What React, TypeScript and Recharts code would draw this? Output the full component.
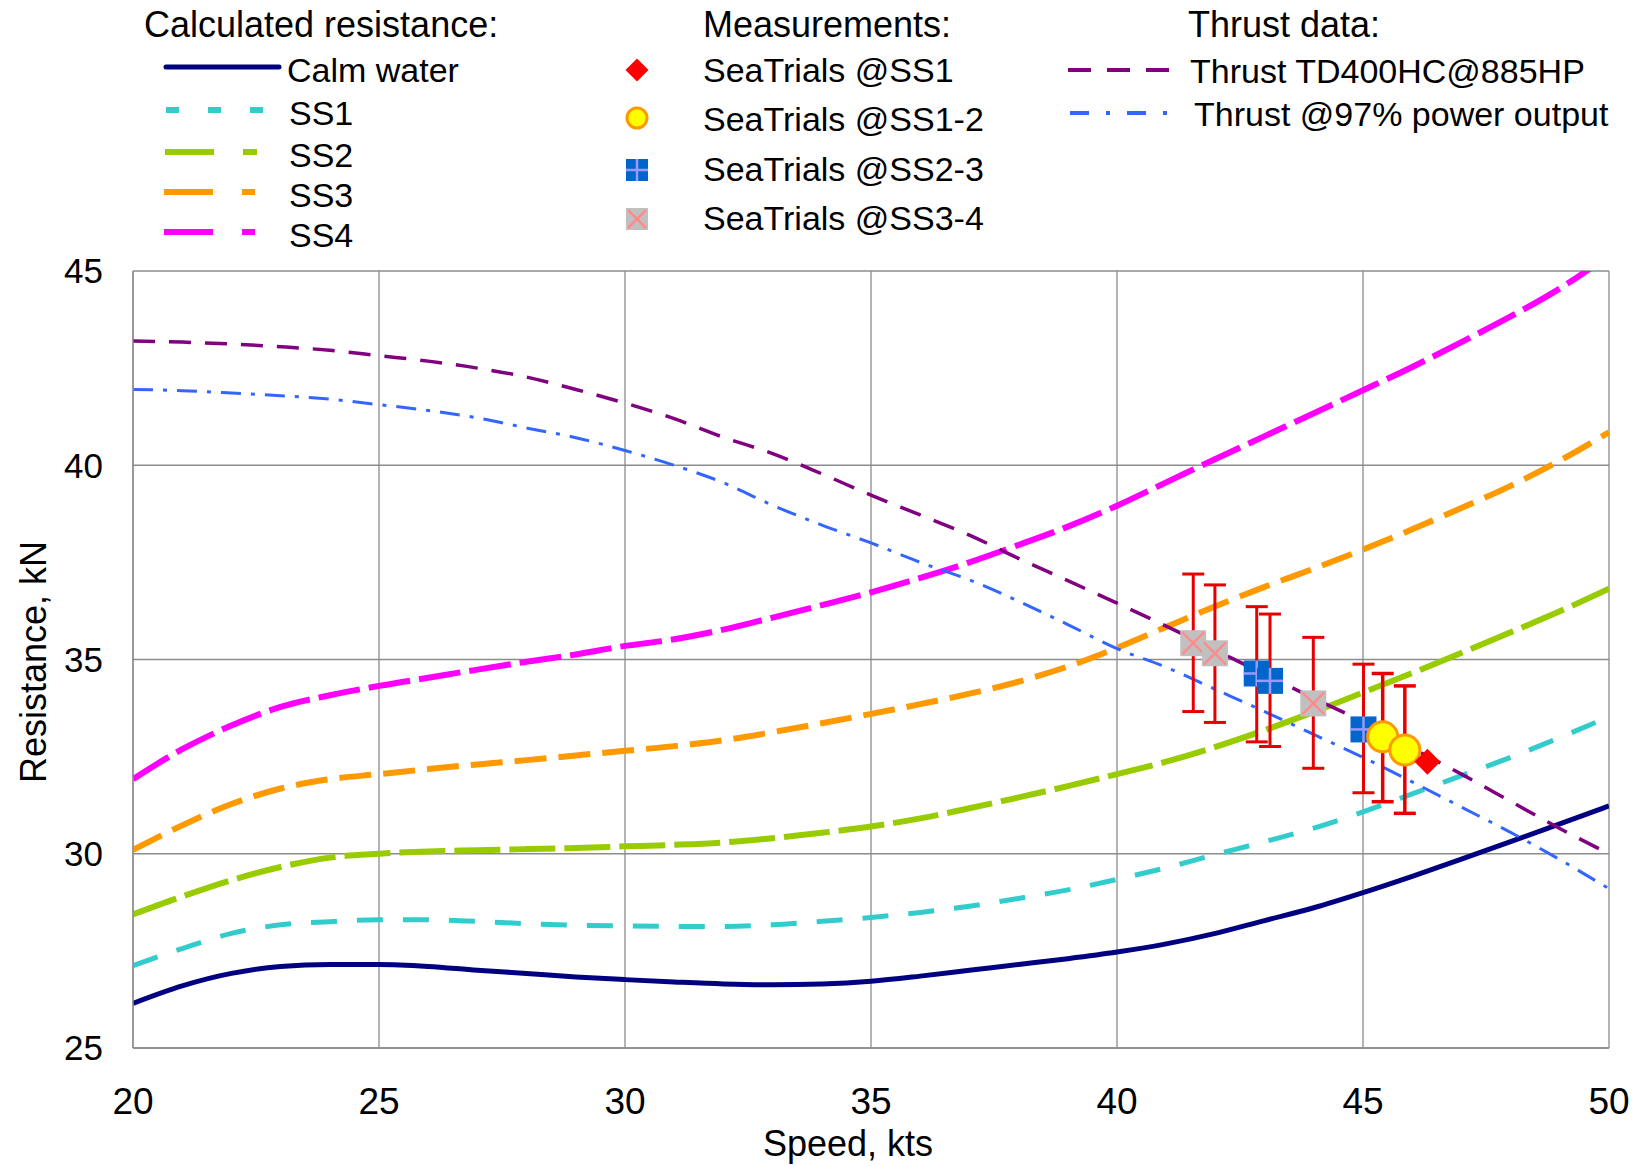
import React from 'react';
import { ComposedChart, Line, Scatter, XAxis, YAxis, CartesianGrid, ErrorBar } from 'recharts';

// ---------- data ----------
const speeds = [20, 21, 22, 23, 24, 25, 26, 27, 28, 29, 30, 31, 32, 33, 34, 35, 36, 37, 38, 39, 40, 41, 42, 43, 44, 45, 46, 47, 48, 49, 50];
const calmWater = [26.15, 26.6, 26.92, 27.1, 27.15, 27.15, 27.1, 27.0, 26.92, 26.83, 26.76, 26.7, 26.65, 26.63, 26.65, 26.72, 26.85, 27.0, 27.15, 27.3, 27.47, 27.68, 27.95, 28.28, 28.61, 29.0, 29.42, 29.86, 30.31, 30.77, 31.23];
const ss1 = [27.12, 27.56, 27.95, 28.17, 28.25, 28.3, 28.3, 28.26, 28.2, 28.16, 28.14, 28.13, 28.13, 28.17, 28.26, 28.36, 28.49, 28.65, 28.85, 29.07, 29.34, 29.64, 29.98, 30.31, 30.66, 31.08, 31.54, 32.01, 32.48, 32.99, 33.53];
const ss2 = [28.44, 28.9, 29.32, 29.66, 29.9, 30.0, 30.06, 30.09, 30.12, 30.15, 30.19, 30.23, 30.29, 30.4, 30.54, 30.7, 30.91, 31.17, 31.45, 31.74, 32.05, 32.37, 32.75, 33.18, 33.65, 34.15, 34.65, 35.17, 35.7, 36.24, 36.82];
const ss3 = [30.1, 30.73, 31.28, 31.68, 31.92, 32.05, 32.18, 32.3, 32.41, 32.53, 32.65, 32.77, 32.92, 33.13, 33.36, 33.6, 33.85, 34.12, 34.43, 34.82, 35.3, 35.84, 36.37, 36.87, 37.34, 37.83, 38.35, 38.9, 39.47, 40.12, 40.85];
const ss4 = [31.92, 32.69, 33.3, 33.78, 34.08, 34.32, 34.53, 34.74, 34.94, 35.13, 35.35, 35.52, 35.77, 36.08, 36.4, 36.73, 37.1, 37.5, 37.95, 38.42, 38.96, 39.56, 40.16, 40.75, 41.34, 41.93, 42.53, 43.17, 43.83, 44.55, 45.4];
const thrustTD400 = [43.2, 43.17, 43.12, 43.05, 42.96, 42.82, 42.68, 42.5, 42.27, 41.95, 41.6, 41.2, 40.72, 40.3, 39.78, 39.23, 38.72, 38.2, 37.6, 37.03, 36.45, 35.86, 35.24, 34.62, 34.0, 33.4, 32.72, 32.05, 31.35, 30.65, 30.0];
const thrust97 = [41.95, 41.92, 41.86, 41.79, 41.7, 41.56, 41.41, 41.22, 40.96, 40.71, 40.38, 40.0, 39.55, 38.97, 38.46, 38.0, 37.5, 37.05, 36.5, 35.9, 35.28, 34.8, 34.23, 33.66, 33.07, 32.48, 31.85, 31.2, 30.55, 29.85, 29.1];

const xTicks = [20, 25, 30, 35, 40, 45, 50];
const yTicks = [25, 30, 35, 40, 45];

// measurements
const trialSS1Speed = [46.31];
const trialSS1Res = [32.37];

const trialSS12Speed = [45.4, 45.85];
const trialSS12Res = [33.01, 32.67];
const trialSS12Low = [31.34, 31.04];
const trialSS12High = [34.64, 34.32];

const trialSS23Speed = [42.84, 43.11, 45.01];
const trialSS23Res = [34.64, 34.45, 33.2];
const trialSS23Low = [32.88, 32.76, 31.57];
const trialSS23High = [36.36, 36.17, 34.88];

const trialSS34Speed = [41.55, 41.99, 43.99];
const trialSS34Res = [35.42, 35.16, 33.87];
const trialSS34Low = [33.66, 33.38, 32.2];
const trialSS34High = [37.2, 36.92, 35.57];

// ---------- tables ----------
const lineData = speeds.map((s, i) => ({
  speed: s,
  calm: calmWater[i],
  ss1: ss1[i],
  ss2: ss2[i],
  ss3: ss3[i],
  ss4: ss4[i],
  td400: thrustTD400[i],
  t97: thrust97[i],
}));

const buildPts = (sp: number[], res: number[], lo?: number[], hi?: number[]) =>
  sp.map((s, i) => ({
    speed: s,
    res: res[i],
    err: lo && hi ? [res[i] - lo[i], hi[i] - res[i]] : [0, 0],
  }));

const ptsSS1 = buildPts(trialSS1Speed, trialSS1Res);
const ptsSS12 = buildPts(trialSS12Speed, trialSS12Res, trialSS12Low, trialSS12High);
const ptsSS23 = buildPts(trialSS23Speed, trialSS23Res, trialSS23Low, trialSS23High);
const ptsSS34 = buildPts(trialSS34Speed, trialSS34Res, trialSS34Low, trialSS34High);

// ---------- styles ----------
const FONT = '"Liberation Sans", Arial, Helvetica, sans-serif';
const C = {
  calm: '#000080',
  ss1: '#33CCCC',
  ss2: '#99CC00',
  ss3: '#FF9900',
  ss4: '#FF00FF',
  td400: '#800080',
  t97: '#3366FF',
  err: '#E60000',
  grid: '#8c8c8c',
};

// ---------- marker shapes ----------
const GrayX = ({ cx, cy, s = 13 }: any) => (
  <g>
    <rect x={cx - s} y={cy - s} width={2 * s} height={2 * s} fill="#C0C0C0" />
    <line x1={cx - s + 2} y1={cy - s + 2} x2={cx + s - 2} y2={cy + s - 2} stroke="#FF8C8C" strokeWidth={2.5} />
    <line x1={cx - s + 2} y1={cy + s - 2} x2={cx + s - 2} y2={cy - s + 2} stroke="#FF8C8C" strokeWidth={2.5} />
  </g>
);
const BlueSq = ({ cx, cy, s = 13 }: any) => (
  <g>
    <rect x={cx - s} y={cy - s} width={2 * s} height={2 * s} fill="#0066CC" />
    <line x1={cx - s} y1={cy} x2={cx + s} y2={cy} stroke="#9999FF" strokeWidth={2.5} />
    <line x1={cx} y1={cy - s} x2={cx} y2={cy + s} stroke="#9999FF" strokeWidth={2.5} />
  </g>
);
const YellowDot = ({ cx, cy, r = 15 }: any) => (
  <circle cx={cx} cy={cy} r={r} fill="#FFFF00" stroke="#FF9900" strokeWidth={3} />
);
const RedDiamond = ({ cx, cy, s = 13 }: any) => (
  <polygon points={`${cx},${cy - s} ${cx + s},${cy} ${cx},${cy + s} ${cx - s},${cy}`} fill="#FF0000" />
);

// ---------- legend ----------
const Legend = () => {
  const item = { fontSize: 34, fontFamily: FONT, fill: '#000', dominantBaseline: 'central' as const };
  const head = { ...item, fontSize: 36 };
  return (
    <svg width={1637} height={260} style={{ position: 'absolute', left: 0, top: 0, pointerEvents: 'none' }}>
      {/* column 1 */}
      <text x={144} y={24} {...head}>Calculated resistance:</text>
      <line x1={166} y1={67} x2={279} y2={67} stroke={C.calm} strokeWidth={5} strokeLinecap="round" />
      <text x={287} y={70} {...item}>Calm water</text>
      <line x1={166} y1={110} x2={264} y2={110} stroke={C.ss1} strokeWidth={6} strokeDasharray="13 29" />
      <text x={289} y={113} {...item}>SS1</text>
      <line x1={165} y1={152} x2={258} y2={152} stroke={C.ss2} strokeWidth={6} strokeDasharray="49 29 14 100" />
      <text x={289} y={155} {...item}>SS2</text>
      <line x1={164} y1={192} x2={256} y2={192} stroke={C.ss3} strokeWidth={6} strokeDasharray="49 29 13 100" />
      <text x={289} y={195} {...item}>SS3</text>
      <line x1={164} y1={232} x2={256} y2={232} stroke={C.ss4} strokeWidth={6} strokeDasharray="49 29 13 100" />
      <text x={289} y={235} {...item}>SS4</text>

      {/* column 2 */}
      <text x={703} y={24} {...head}>Measurements:</text>
      <RedDiamond cx={637} cy={70} s={11.5} />
      <text x={703} y={70} {...item}>SeaTrials @SS1</text>
      <YellowDot cx={637} cy={118} r={10} />
      <text x={703} y={119} {...item}>SeaTrials @SS1-2</text>
      <BlueSq cx={637} cy={170} s={11} />
      <text x={703} y={169} {...item}>SeaTrials @SS2-3</text>
      <GrayX cx={637} cy={219} s={11} />
      <text x={703} y={218} {...item}>SeaTrials @SS3-4</text>

      {/* column 3 */}
      <text x={1188} y={24} {...head}>Thrust data:</text>
      <line x1={1068} y1={70} x2={1172} y2={70} stroke={C.td400} strokeWidth={4} strokeDasharray="23 16" />
      <text x={1190} y={71} {...item}>Thrust TD400HC@885HP</text>
      <line x1={1070} y1={113} x2={1176} y2={113} stroke={C.t97} strokeWidth={4} strokeDasharray="19 17 4 17" />
      <text x={1194} y={114} {...item}>Thrust @97% power output</text>
    </svg>
  );
};

export default function App() {
  return (
    <div style={{ position: 'absolute', left: 0, top: 0, width: 1637, height: 1166, background: '#fff' }}>
      <ComposedChart
        width={1637}
        height={1166}
        data={lineData}
        margin={{ top: 271, right: 28, bottom: 18, left: 33 }}
      >
        <CartesianGrid stroke={C.grid} strokeWidth={1.3} />
        <XAxis
          dataKey="speed"
          type="number"
          domain={[20, 50]}
          allowDataOverflow
          ticks={xTicks}
          interval={0}
          height={100}
          tickLine={false}
          tickSize={6}
          tickMargin={34}
          axisLine={{ stroke: C.grid, strokeWidth: 1.3 }}
          tick={{ fontSize: 37, fill: '#000', fontFamily: FONT }}
          label={{
            content: () => (
              <text x={848} y={1156} textAnchor="middle" fontSize={36} fontFamily={FONT} fill="#000">
                Speed, kts
              </text>
            ),
          }}
        />
        <YAxis
          type="number"
          domain={[25, 45]}
          allowDataOverflow
          ticks={yTicks}
          interval={0}
          width={100}
          tickLine={false}
          tickSize={6}
          tickMargin={24}
          axisLine={{ stroke: C.grid, strokeWidth: 1.3 }}
          tick={{ fontSize: 35, fill: '#000', fontFamily: FONT }}
          label={{
            content: () => (
              <text
                x={33}
                y={662}
                transform="rotate(-90 33 662)"
                textAnchor="middle"
                dominantBaseline="central"
                fontSize={36}
                fontFamily={FONT}
                fill="#000"
              >
                Resistance, kN
              </text>
            ),
          }}
        />

        <Line dataKey="calm" type="monotone" stroke={C.calm} strokeWidth={5} dot={false} activeDot={false} isAnimationActive={false} />
        <Line dataKey="ss1" type="monotone" stroke={C.ss1} strokeWidth={5} strokeDasharray="26 20" dot={false} activeDot={false} isAnimationActive={false} />
        <Line dataKey="ss2" type="monotone" stroke={C.ss2} strokeWidth={6} strokeDasharray="46 9" dot={false} activeDot={false} isAnimationActive={false} />
        <Line dataKey="ss3" type="monotone" stroke={C.ss3} strokeWidth={6} strokeDasharray="32 12" dot={false} activeDot={false} isAnimationActive={false} />
        <Line dataKey="ss4" type="monotone" stroke={C.ss4} strokeWidth={6} strokeDasharray="42 9" dot={false} activeDot={false} isAnimationActive={false} />
        <Line dataKey="td400" type="monotone" stroke={C.td400} strokeWidth={3.5} strokeDasharray="22 14" dot={false} activeDot={false} isAnimationActive={false} />
        <Line dataKey="t97" type="monotone" stroke={C.t97} strokeWidth={3} strokeDasharray="20 10 4 10" dot={false} activeDot={false} isAnimationActive={false} />

        <Scatter data={ptsSS34} dataKey="res" shape={(p: any) => <GrayX cx={p.cx} cy={p.cy} />} isAnimationActive={false}>
          <ErrorBar dataKey="err" direction="y" width={11} strokeWidth={3} stroke={C.err} />
        </Scatter>
        <Scatter data={ptsSS23} dataKey="res" shape={(p: any) => <BlueSq cx={p.cx} cy={p.cy} />} isAnimationActive={false}>
          <ErrorBar dataKey="err" direction="y" width={11} strokeWidth={3} stroke={C.err} />
        </Scatter>
        <Scatter data={ptsSS12} dataKey="res" shape={(p: any) => <YellowDot cx={p.cx} cy={p.cy} />} isAnimationActive={false}>
          <ErrorBar dataKey="err" direction="y" width={11} strokeWidth={3.5} stroke={C.err} />
        </Scatter>
        <Scatter data={ptsSS1} dataKey="res" shape={(p: any) => <RedDiamond cx={p.cx} cy={p.cy} />} isAnimationActive={false} />
      </ComposedChart>
      <Legend />
    </div>
  );
}
